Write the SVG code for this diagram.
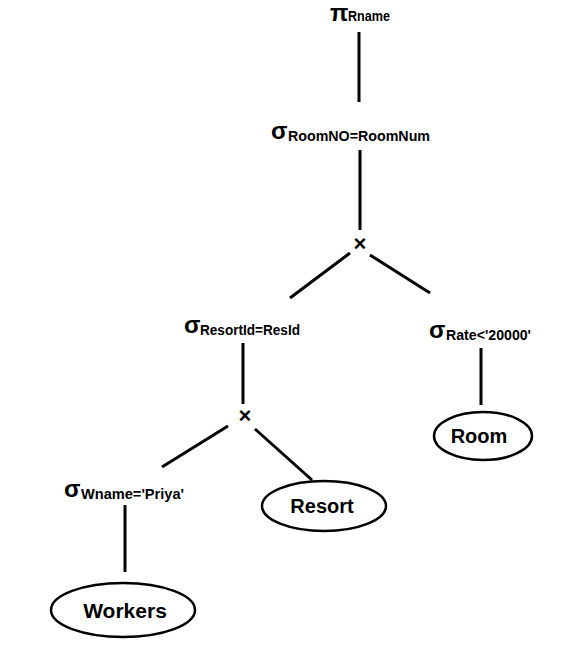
<svg xmlns="http://www.w3.org/2000/svg" width="584" height="656" viewBox="0 0 584 656">
<style>
.l{stroke:#000;stroke-width:3;fill:none}
.e{stroke:#000;stroke-width:2.5;fill:#fff}
.g{font-family:"Liberation Sans",Arial,sans-serif;font-weight:bold;font-size:24px;fill:#000}
.s{font-family:"Liberation Sans",Arial,sans-serif;font-weight:bold;font-size:14.5px;fill:#000}
.n{font-family:"Liberation Sans",Arial,sans-serif;font-weight:bold;font-size:20px;fill:#000;text-anchor:middle}
.x{font-family:"Liberation Sans",Arial,sans-serif;font-weight:bold;font-size:22px;fill:#000;text-anchor:middle}
</style>
<rect width="584" height="656" fill="#fff"/>
<g id="connectors">
<line class="l" x1="359" y1="32" x2="359" y2="102"/>
<line class="l" x1="360" y1="150" x2="360" y2="230"/>
<line class="l" x1="350" y1="253" x2="290" y2="298"/>
<line class="l" x1="370" y1="255" x2="430" y2="293"/>
<line class="l" x1="243" y1="343" x2="243" y2="404"/>
<line class="l" x1="228" y1="426" x2="162" y2="467"/>
<line class="l" x1="255" y1="429" x2="312" y2="480"/>
<line class="l" x1="481" y1="348" x2="481" y2="405"/>
<line class="l" x1="125" y1="505" x2="125" y2="572"/>
</g>
<g id="project">
<text class="g" x="330" y="21">π</text>
<text class="s" x="348" y="21" textLength="42" lengthAdjust="spacingAndGlyphs">Rname</text>
</g>
<g id="sel-room">
<text class="g" x="271" y="139">σ</text>
<text class="s" x="288" y="141" textLength="142" lengthAdjust="spacingAndGlyphs">RoomNO=RoomNum</text>
</g>
<g id="cross1"><text class="x" x="360" y="251">×</text></g>
<g id="sel-resort">
<text class="g" x="184" y="333">σ</text>
<text class="s" x="200" y="335" textLength="100" lengthAdjust="spacingAndGlyphs">ResortId=ResId</text>
</g>
<g id="sel-rate">
<text class="g" x="429" y="338">σ</text>
<text class="s" x="446" y="340" textLength="85" lengthAdjust="spacingAndGlyphs">Rate&lt;'20000'</text>
</g>
<g id="cross2"><text class="x" x="245" y="423">×</text></g>
<g id="sel-wname">
<text class="g" x="64" y="497">σ</text>
<text class="s" x="81" y="499" textLength="103" lengthAdjust="spacingAndGlyphs">Wname='Priya'</text>
</g>
<g id="room">
<ellipse class="e" cx="483" cy="436" rx="49" ry="24"/>
<text class="n" x="479" y="443">Room</text>
</g>
<g id="resort">
<ellipse class="e" cx="324" cy="506" rx="62" ry="25"/>
<text class="n" x="322" y="513">Resort</text>
</g>
<g id="workers">
<ellipse class="e" cx="123" cy="610" rx="72" ry="27"/>
<text class="n" x="125" y="618" style="font-size:21px">Workers</text>
</g>
</svg>
